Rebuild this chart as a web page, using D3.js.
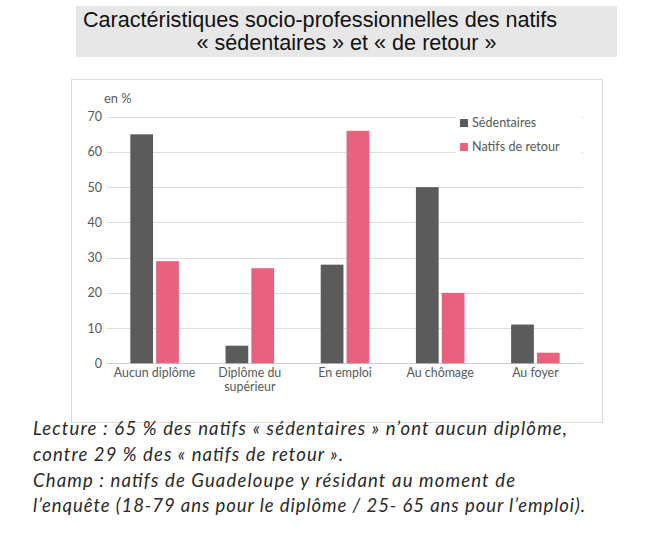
<!DOCTYPE html>
<html><head><meta charset="utf-8">
<script src="https://cdn.jsdelivr.net/npm/d3@7/dist/d3.min.js"></script>
<style>body{margin:0;background:#fff}svg{display:block}</style>
</head><body>
<svg id="c" width="650" height="539"></svg>
<script>
const categories = [["Aucun diplôme"], ["Diplôme du", "supérieur"], ["En emploi"], ["Au chômage"], ["Au foyer"]];
const series = ["Sédentaires", "Natifs de retour"];
const sedentaires = [65, 5, 28, 50, 11];
const natifsRetour = [29, 27, 66, 20, 3];
const yTicks = [0, 10, 20, 30, 40, 50, 60, 70];
const colors = ["#5b5b5b", "#e8617f"];
const titleLines = ["Caractéristiques socio-professionnelles des natifs", "« sédentaires » et « de retour »"];
const captionLines = [
  "Lecture : 65 % des natifs « sédentaires » n’ont aucun diplôme,",
  "contre 29 % des « natifs de retour ».",
  "Champ : natifs de Guadeloupe y résidant au moment de",
  "l’enquête (18-79 ans pour le diplôme / 25- 65 ans pour l’emploi)."
];
const captionWidths = [534, 310, 482, 552];

const svg = d3.select("#c");
const font = "Lato, 'Open Sans', sans-serif";

// Title box
svg.append("rect").attr("x", 76).attr("y", 6).attr("width", 541).attr("height", 51).attr("fill", "#e7e7e7");
svg.append("text").attr("x", 83).attr("y", 27).attr("font-family", "'Liberation Sans', Arial, sans-serif")
  .attr("font-size", 21.6).attr("fill", "#111").text(titleLines[0]);
svg.append("text").attr("x", 346.5).attr("y", 50).attr("text-anchor", "middle").attr("font-family", "'Liberation Sans', Arial, sans-serif")
  .attr("font-size", 21.6).attr("fill", "#111").text(titleLines[1]);

// Chart frame
svg.append("rect").attr("x", 71.5).attr("y", 79.5).attr("width", 531).attr("height", 343)
  .attr("fill", "#fff").attr("stroke", "#dcdcdc");

const pLeft = 107, pRight = 583, pTop = 116.7, pBottom = 363.3;
const y = d3.scaleLinear().domain([0, 70]).range([pBottom, pTop]);
const x0 = d3.scaleBand().domain(d3.range(categories.length)).range([pLeft, pRight]);
const bw = x0.bandwidth();
const x1 = d3.scaleBand().domain(series).range([bw * 0.245, bw * 0.755]).paddingInner(0.12);

// gridlines
svg.append("g").selectAll("line").data(yTicks).join("line")
  .attr("x1", pLeft).attr("x2", pRight)
  .attr("y1", d => Math.round(y(d)) + 0.5).attr("y2", d => Math.round(y(d)) + 0.5)
  .attr("stroke", d => d === 0 ? "#cfcfcf" : "#dedede").attr("stroke-width", 1);

// y axis labels via d3 axis
const yAxis = svg.append("g").attr("transform", `translate(${pLeft},0)`)
  .call(d3.axisLeft(y).tickValues(yTicks).tickSize(0).tickPadding(5));
yAxis.select(".domain").remove();
yAxis.selectAll("text").attr("font-family", font).attr("font-size", 12.5).attr("fill", "#595959");

svg.append("text").attr("x", 104).attr("y", 103).attr("font-family", font).attr("font-size", 12.8)
  .attr("fill", "#595959").text("en %");

// bars
const data = categories.map((c, i) => ({i, vals: [sedentaires[i], natifsRetour[i]]}));
const groups = svg.append("g").selectAll("g").data(data).join("g")
  .attr("transform", d => `translate(${x0(d.i)},0)`);
groups.selectAll("rect").data(d => d.vals.map((v, k) => ({v, k}))).join("rect")
  .attr("x", d => x1(series[d.k])).attr("width", x1.bandwidth())
  .attr("y", d => y(d.v)).attr("height", d => y(0) - y(d.v))
  .attr("fill", d => colors[d.k]);

// category labels
const xl = svg.append("g").selectAll("text").data(categories).join("text")
  .attr("x", (d, i) => x0(i) + bw / 2).attr("y", 377)
  .attr("text-anchor", "middle").attr("font-family", font).attr("font-size", 12.4).attr("fill", "#595959");
xl.each(function(d) {
  const t = d3.select(this);
  d.forEach((line, j) => t.append("tspan").attr("x", t.attr("x")).attr("dy", j === 0 ? 0 : 13.5).text(line));
});

// legend
svg.append("rect").attr("x", 456).attr("y", 110).attr("width", 125).attr("height", 50).attr("fill", "#fff");
const lg = svg.append("g").selectAll("g").data(series).join("g")
  .attr("transform", (d, i) => `translate(460,${119 + i * 24})`);
lg.append("rect").attr("width", 8).attr("height", 8).attr("fill", (d, i) => colors[i]);
lg.append("text").attr("x", 12).attr("y", 8.3).attr("font-family", font).attr("font-size", 12.6)
  .attr("fill", "#595959").text(d => d);

// caption
svg.append("g").selectAll("text").data(captionLines).join("text")
  .attr("x", 33).attr("y", (d, i) => 435 + i * 25.8)
  .attr("font-family", font).attr("font-style", "italic").attr("font-size", 18.5).attr("fill", "#2a2a2a")
  .attr("textLength", (d, i) => captionWidths[i]).attr("lengthAdjust", "spacing")
  .text(d => d);
</script>
</body></html>
